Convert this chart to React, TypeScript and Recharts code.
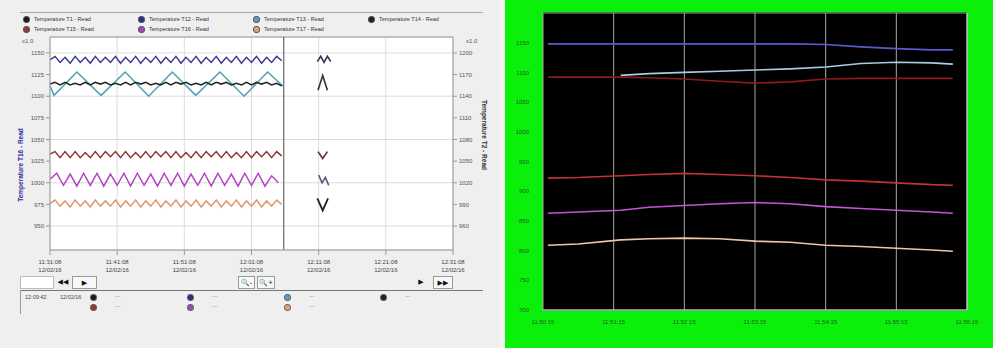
import React from 'react';
import { LineChart, Line, XAxis, YAxis, CartesianGrid, ReferenceLine } from 'recharts';

// ---------------- Left chart data ----------------
const leftTimeTicks = [0, 10, 20, 30, 40, 50, 60];
const leftTimeLabels = ['11:31:08', '11:41:08', '11:51:08', '12:01:08', '12:11:08', '12:21:08', '12:31:08'];
const leftDateLabel = '12/02/16';
const leftAxisTicks = [950, 975, 1000, 1025, 1050, 1075, 1100, 1125, 1150];
const leftAxisDomain = [922.3, 1168.4];
const leftRightAxisTicks = [960, 990, 1020, 1050, 1080, 1110, 1140, 1170, 1200];
const leftRightAxisDomain = [926.8, 1222.1];
const sampleStep = 0.75;
const magentaStep = 1.0;
const cursorTime = 34.8;

const navyValues = [1142, 1146, 1139, 1145, 1138, 1146, 1139, 1145, 1138, 1146, 1139, 1145, 1139, 1146, 1138, 1145, 1139, 1146, 1138, 1145, 1139, 1146, 1138, 1145, 1139, 1146, 1138, 1145, 1139, 1146, 1138, 1145, 1139, 1146, 1138, 1145, 1139, 1146, 1138, 1145, 1139, 1146, 1138, 1145, 1139, 1146, 1141];
const blackValues = [1114, 1116, 1113, 1116, 1113, 1115, 1113, 1116, 1113, 1116, 1114, 1116, 1113, 1115, 1113, 1116, 1113, 1116, 1114, 1116, 1113, 1115, 1113, 1116, 1113, 1116, 1114, 1116, 1113, 1115, 1113, 1116, 1113, 1116, 1114, 1116, 1113, 1115, 1113, 1116, 1113, 1116, 1114, 1116, 1113, 1115, 1112];
const brownValues = [1033, 1036, 1029, 1036, 1029, 1036, 1029, 1035, 1029, 1036, 1029, 1036, 1030, 1036, 1029, 1036, 1029, 1035, 1029, 1036, 1029, 1036, 1030, 1036, 1029, 1036, 1029, 1035, 1029, 1036, 1029, 1036, 1030, 1036, 1029, 1036, 1029, 1035, 1029, 1036, 1029, 1036, 1030, 1036, 1029, 1036, 1031];
const peachValues = [976, 980, 973, 979, 972, 980, 973, 979, 972, 980, 973, 979, 973, 980, 972, 979, 973, 980, 972, 979, 973, 980, 972, 979, 973, 980, 972, 979, 973, 980, 972, 979, 973, 980, 972, 979, 973, 980, 972, 979, 973, 980, 972, 979, 973, 980, 975];
const magentaValues = [1004, 1011, 997, 1010, 996, 1011, 997, 1011, 996, 1010, 997, 1011, 996, 1011, 997, 1010, 996, 1011, 997, 1011, 996, 1010, 997, 1011, 996, 1011, 997, 1010, 996, 1011, 997, 1011, 996, 1008, 1000];
const tealTimes = [0, 0.6, 4.0, 7.6, 11.2, 14.7, 18.2, 21.7, 25.3, 28.9, 32.4, 34.8];
const tealValues = [1112, 1101, 1128, 1101, 1128, 1100, 1128, 1101, 1128, 1100, 1128, 1111];

// small cursor-value glyphs right of the cursor
const glyphNavyTimes = [39.8, 40.3, 40.8, 41.3, 41.8];
const glyphNavyValues = [1140, 1146, 1139, 1146, 1140];
const glyphBlackTimes = [39.9, 40.6, 41.3];
const glyphBlackValues = [1107, 1124, 1107];
const glyphBrownTimes = [39.9, 40.6, 41.3];
const glyphBrownValues = [1036, 1028, 1036];
const glyphMagentaTimes = [40.0, 40.5, 41.0, 41.5];
const glyphMagentaValues = [1009, 1000, 1006, 997];
const glyphPeachTimes = [39.8, 40.6, 41.4];
const glyphPeachValues = [982, 968, 982];

const legendNames = ['Temperature T1 - Read', 'Temperature T12 - Read', 'Temperature T13 - Read', 'Temperature T14 - Read', 'Temperature T15 - Read', 'Temperature T16 - Read', 'Temperature T17 - Read'];
const legendColors = ['#1a1a1a', '#2c2c8c', '#5a9cc4', '#222222', '#8c3c3c', '#a048b8', '#e0a078'];

// ---------------- Right chart data ----------------
const rightTimes = [0.7, 5, 11, 15, 20, 25, 30, 35, 40, 45, 50, 55, 58];
const rightTimeTicks = [0, 10, 20, 30, 40, 50, 60];
const rightTimeLabels = ['11:50:15', '11:51:15', '11:52:15', '11:53:15', '11:54:15', '11:55:15', '11:56:15'];
const rightAxisTicks = [700, 750, 800, 850, 900, 950, 1000, 1050, 1100, 1150];
const rightAxisDomain = [700, 1200];
const blueR = [1148, 1148, 1148, 1148, 1148, 1148, 1148, 1148, 1147, 1143, 1140, 1138, 1138];
const cyanR = [null, null, 1095, 1098, 1100, 1102, 1104, 1106, 1109, 1115, 1117, 1116, 1114];
const darkRedR = [1092, 1092, 1092, 1091, 1089, 1085, 1082, 1084, 1089, 1090, 1090, 1090, 1090];
const redR = [922, 923, 926, 928, 930, 928, 926, 923, 919, 917, 914, 911, 910];
const magentaR = [863, 865, 868, 873, 876, 879, 881, 879, 874, 871, 868, 865, 863];
const peachR = [809, 811, 818, 820, 821, 820, 816, 814, 809, 807, 804, 801, 799];

const series = (values: number[], step: number) => values.map((v, i) => ({ t: i * step, v }));
const paired = (times: number[], values: number[]) => times.map((t, i) => ({ t, v: values[i] }));

const rightRows = rightTimes.map((t, i) => ({
  t,
  blue: blueR[i],
  cyan: cyanR[i],
  darkRed: darkRedR[i],
  red: redR[i],
  magenta: magentaR[i],
  peach: peachR[i],
}));

const FONT = '"Liberation Sans", "DejaVu Sans", Arial, sans-serif';

const LeftTimeTick = (props: any) => {
  const { x, y, payload } = props;
  const i = leftTimeTicks.indexOf(payload.value);
  return (
    <g>
      <text x={x} y={y + 7} textAnchor="middle" fontSize={6} fill="#444" fontFamily={FONT}>{leftTimeLabels[i]}</text>
      <text x={x} y={y + 15} textAnchor="middle" fontSize={6} fill="#444" fontFamily={FONT}>{leftDateLabel}</text>
    </g>
  );
};

const RightTimeTick = (props: any) => {
  const { x, y, payload } = props;
  const i = rightTimeTicks.indexOf(payload.value);
  return (
    <text x={x} y={y + 6} textAnchor="middle" fontSize={6} fill="#1d5e1d" fontFamily={FONT}>{rightTimeLabels[i]}</text>
  );
};

const btn: React.CSSProperties = {
  position: 'absolute', border: '1px solid #9a9a9a', background: '#f7f7f7', fontSize: 7, lineHeight: '11px',
  textAlign: 'center', color: '#111', boxSizing: 'border-box', height: 13,
};

export default function App() {
  const leftAxisTick = { fontSize: 6, fill: '#555', fontFamily: FONT };
  const rightAxisTick = { fontSize: 6, fill: '#1d5e1d', fontFamily: FONT };
  const lw = 1.5;
  return (
    <div style={{ position: 'absolute', left: 0, top: 0, width: 993, height: 348, overflow: 'hidden', background: '#f5f5f5', fontFamily: FONT }}>
      {/* -------- Left panel -------- */}
      <div style={{ position: 'absolute', left: 0, top: 0, width: 500, height: 348, background: '#efefef' }}>
        <div style={{ position: 'absolute', left: 20, top: 12, width: 463, height: 1, background: '#a8a8a8' }} />
        <div style={{ position: 'absolute', left: 23, top: 14, width: 470, display: 'flex', flexWrap: 'wrap' }}>
          {legendNames.map((n, i) => (
            <div key={n} style={{ width: 115, height: 10, display: 'flex', alignItems: 'center', fontSize: 5.5, color: '#333' }}>
              <span style={{ display: 'inline-block', width: 5, height: 5, borderRadius: 3, background: legendColors[i], border: '1px solid #555', marginRight: 4 }} />
              {n}
            </div>
          ))}
        </div>
        <div style={{ position: 'absolute', left: 22, top: 38, fontSize: 6, color: '#555' }}>x1.0</div>
        <div style={{ position: 'absolute', left: 466, top: 38, fontSize: 6, color: '#555' }}>x1.0</div>
        <div style={{ position: 'absolute', left: 20, top: 165, transform: 'translate(-50%, -50%) rotate(-90deg)', whiteSpace: 'nowrap', fontSize: 6.5, fontWeight: 700, color: '#2b2ba0' }}>Temperature T16 - Read</div>
        <div style={{ position: 'absolute', left: 484, top: 135, transform: 'translate(-50%, -50%) rotate(90deg)', whiteSpace: 'nowrap', fontSize: 6.5, fontWeight: 700, color: '#333' }}>Temperature T2 - Read</div>

        <div style={{ position: 'absolute', left: 0, top: 0 }}>
          <LineChart width={500} height={348} margin={{ top: 37, right: 0, bottom: 68, left: 0 }}>
            <CartesianGrid stroke="#dcdcdc" fill="#ffffff" yAxisId="left" />
            <XAxis dataKey="t" type="number" domain={[0, 60]} ticks={leftTimeTicks} allowDataOverflow
              height={30} tick={<LeftTimeTick />} tickLine={{ stroke: '#999' }} tickSize={5} axisLine={{ stroke: '#999' }} />
            <YAxis yAxisId="left" type="number" domain={leftAxisDomain} ticks={leftAxisTicks} allowDataOverflow
              width={50} tick={leftAxisTick} tickSize={4} tickLine={{ stroke: '#999' }} axisLine={{ stroke: '#999' }} />
            <YAxis yAxisId="right" orientation="right" type="number" domain={leftRightAxisDomain} ticks={leftRightAxisTicks} allowDataOverflow
              width={47} tick={leftAxisTick} tickSize={4} tickLine={{ stroke: '#999' }} axisLine={{ stroke: '#999' }} />
            <ReferenceLine yAxisId="left" y={leftAxisDomain[1]} stroke="#999" />
            <ReferenceLine yAxisId="left" x={cursorTime} stroke="#666" strokeWidth={1.2} />
            <Line yAxisId="left" data={series(navyValues, sampleStep)} dataKey="v" stroke="#3b3b94" strokeWidth={lw} dot={false} isAnimationActive={false} />
            <Line yAxisId="left" data={paired(tealTimes, tealValues)} dataKey="v" stroke="#4f9fb4" strokeWidth={lw} dot={false} isAnimationActive={false} />
            <Line yAxisId="left" data={series(blackValues, sampleStep)} dataKey="v" stroke="#222" strokeWidth={lw} dot={false} isAnimationActive={false} />
            <Line yAxisId="left" data={series(brownValues, sampleStep)} dataKey="v" stroke="#8c3434" strokeWidth={lw} dot={false} isAnimationActive={false} />
            <Line yAxisId="left" data={series(magentaValues, magentaStep)} dataKey="v" stroke="#b444c4" strokeWidth={lw} dot={false} isAnimationActive={false} />
            <Line yAxisId="left" data={series(peachValues, sampleStep)} dataKey="v" stroke="#dc9a6c" strokeWidth={lw} dot={false} isAnimationActive={false} />
            <Line yAxisId="left" data={paired(glyphNavyTimes, glyphNavyValues)} dataKey="v" stroke="#333355" strokeWidth={1.6} dot={false} isAnimationActive={false} />
            <Line yAxisId="left" data={paired(glyphBlackTimes, glyphBlackValues)} dataKey="v" stroke="#333" strokeWidth={1.6} dot={false} isAnimationActive={false} />
            <Line yAxisId="left" data={paired(glyphBrownTimes, glyphBrownValues)} dataKey="v" stroke="#553333" strokeWidth={1.6} dot={false} isAnimationActive={false} />
            <Line yAxisId="left" data={paired(glyphMagentaTimes, glyphMagentaValues)} dataKey="v" stroke="#665577" strokeWidth={1.6} dot={false} isAnimationActive={false} />
            <Line yAxisId="left" data={paired(glyphPeachTimes, glyphPeachValues)} dataKey="v" stroke="#222" strokeWidth={1.8} dot={false} isAnimationActive={false} />
          </LineChart>
        </div>

        {/* navigation buttons */}
        <div style={{ ...btn, left: 20, top: 276, width: 34, background: '#fff', border: '1px solid #bbb' }} />
        <div style={{ ...btn, left: 55, top: 276, width: 16, border: 'none', background: 'transparent' }}>◀◀</div>
        <div style={{ ...btn, left: 72, top: 276, width: 25 }}>▶</div>
        <div style={{ ...btn, left: 238, top: 276, width: 17 }}>🔍-</div>
        <div style={{ ...btn, left: 257, top: 276, width: 18 }}>🔍+</div>
        <div style={{ ...btn, left: 411, top: 276, width: 20, border: 'none', background: 'transparent' }}>▶</div>
        <div style={{ ...btn, left: 433, top: 276, width: 20 }}>▶▶</div>
        <div style={{ position: 'absolute', left: 20, top: 290, width: 463, height: 1, background: '#777' }} />
        <div style={{ position: 'absolute', left: 20, top: 290, width: 1, height: 24, background: '#999' }} />

        {/* cursor value table */}
        <div style={{ position: 'absolute', left: 25, top: 294, fontSize: 5.5, color: '#444' }}>12:09:42</div>
        <div style={{ position: 'absolute', left: 60, top: 294, fontSize: 5.5, color: '#444' }}>12/02/16</div>
        {[
          { x: 90, y: 294, c: legendColors[0] },
          { x: 90, y: 304, c: legendColors[4] },
          { x: 187, y: 294, c: legendColors[1] },
          { x: 187, y: 304, c: legendColors[5] },
          { x: 284, y: 294, c: legendColors[2] },
          { x: 284, y: 304, c: legendColors[6] },
          { x: 380, y: 294, c: legendColors[3] },
        ].map((d, i) => (
          <React.Fragment key={i}>
            <span style={{ position: 'absolute', left: d.x, top: d.y, width: 5, height: 5, borderRadius: 3, background: d.c, border: '1px solid #666' }} />
            <span style={{ position: 'absolute', left: d.x + 25, top: d.y - 1, fontSize: 5.5, color: '#888' }}>---</span>
          </React.Fragment>
        ))}
      </div>

      {/* -------- Right panel -------- */}
      <div style={{ position: 'absolute', left: 505, top: 0, width: 488, height: 348, background: '#0af00a' }}>
        <LineChart width={488} height={348} data={rightRows} margin={{ top: 13, right: 0, bottom: 8, left: 0 }}>
          <CartesianGrid vertical={false} stroke="#606060" fill="#000000" strokeWidth={1.3} />
          <CartesianGrid horizontal={false} stroke="#a8a8a8" strokeWidth={1} />
          <XAxis dataKey="t" type="number" domain={[0, 60]} ticks={rightTimeTicks} height={30}
            tick={<RightTimeTick />} tickLine={false} axisLine={{ stroke: '#cfcfcf' }} />
          <YAxis yAxisId="left" type="number" domain={rightAxisDomain} ticks={rightAxisTicks} width={38}
            tick={rightAxisTick} tickLine={false} axisLine={false} tickMargin={8} />
          <YAxis yAxisId="right" orientation="right" type="number" domain={rightAxisDomain} ticks={rightAxisTicks} width={26}
            tick={rightAxisTick} tickLine={false} axisLine={{ stroke: '#cfcfcf' }} tickMargin={8} />
          <Line yAxisId="left" dataKey="blue" stroke="#5a5ad0" strokeWidth={1.6} dot={false} isAnimationActive={false} />
          <Line yAxisId="left" dataKey="cyan" stroke="#a8cce4" strokeWidth={1.6} dot={false} isAnimationActive={false} />
          <Line yAxisId="left" dataKey="darkRed" stroke="#8a1c1c" strokeWidth={1.6} dot={false} isAnimationActive={false} />
          <Line yAxisId="left" dataKey="red" stroke="#c23434" strokeWidth={1.6} dot={false} isAnimationActive={false} />
          <Line yAxisId="left" dataKey="magenta" stroke="#c455d4" strokeWidth={1.6} dot={false} isAnimationActive={false} />
          <Line yAxisId="left" dataKey="peach" stroke="#f2c4a6" strokeWidth={1.6} dot={false} isAnimationActive={false} />
        </LineChart>
      </div>
    </div>
  );
}
